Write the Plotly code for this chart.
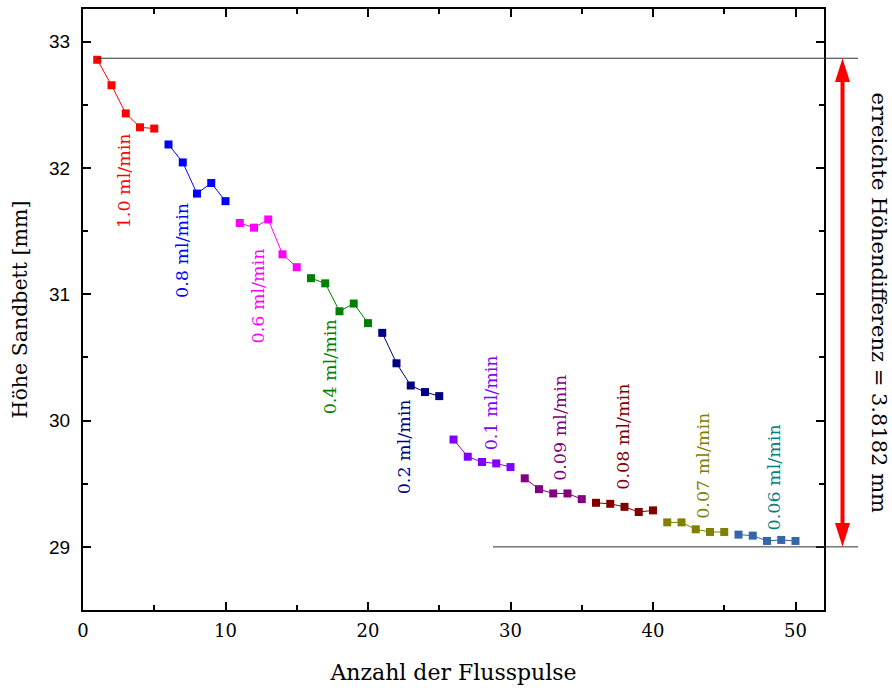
import plotly.graph_objects as go

# ---- data ----
pulses = list(range(1, 51))
flow_labels = ["1.0 ml/min", "0.8 ml/min", "0.6 ml/min", "0.4 ml/min", "0.2 ml/min",
               "0.1 ml/min", "0.09 ml/min", "0.08 ml/min", "0.07 ml/min", "0.06 ml/min"]
heights = [
    [32.858, 32.656, 32.433, 32.323, 32.313],
    [32.187, 32.045, 31.798, 31.882, 31.738],
    [31.565, 31.528, 31.593, 31.317, 31.215],
    [31.128, 31.087, 30.866, 30.927, 30.772],
    [30.695, 30.454, 30.278, 30.226, 30.194],
    [29.850, 29.714, 29.672, 29.661, 29.632],
    [29.543, 29.457, 29.423, 29.423, 29.378],
    [29.349, 29.341, 29.317, 29.276, 29.289],
    [29.194, 29.194, 29.139, 29.118, 29.118],
    [29.097, 29.089, 29.047, 29.055, 29.047],
]
label_x = [2.85, 6.93, 12.27, 17.33, 22.54, 28.66, 33.52, 37.87, 43.49, 48.49]
label_y = [31.90, 31.35, 30.99, 30.43, 29.79, 30.14, 29.94, 29.87, 29.64, 29.55]
marker_colors = ["#FF0000", "#0000FF", "#FF00FF", "#008000", "#000080",
                 "#8000FF", "#800080", "#800000", "#808000", "#3366AA"]
label_colors = ["#FF0000", "#0000FF", "#FF00FF", "#008000", "#000080",
                "#8000FF", "#800080", "#800000", "#808000", "#008080"]
ref_top = 32.87
ref_bottom = 29.0
diff_text = "erreichte Höhendifferenz = 3.8182 mm"

X_RANGE = [0, 52]
Y_RANGE = [28.5, 33.26]

fig = go.Figure()
for i, (lab, ys) in enumerate(zip(flow_labels, heights)):
    xs = pulses[i * 5:(i + 1) * 5]
    fig.add_trace(go.Scatter(
        x=xs, y=ys, mode="lines+markers", name=lab,
        line=dict(color=marker_colors[i], width=1),
        marker=dict(symbol="square", size=8, color=marker_colors[i]),
        showlegend=False, cliponaxis=False))
    fig.add_annotation(x=label_x[i], y=label_y[i], xref="x", yref="y",
                       text=lab, textangle=-90, showarrow=False,
                       font=dict(family="DejaVu Serif", size=17.5, color=label_colors[i]))

# reference lines (paper x, data y)
def px2paper(px):
    return (px - 83) / (824 - 83)

fig.add_shape(type="line", xref="paper", yref="y", x0=px2paper(97), x1=px2paper(858),
              y0=ref_top, y1=ref_top, line=dict(color="#333333", width=1))
fig.add_shape(type="line", xref="paper", yref="y", x0=px2paper(493), x1=px2paper(858),
              y0=ref_bottom, y1=ref_bottom, line=dict(color="#333333", width=1))

# double arrow
ax_ = px2paper(842.5)
hw = 7.5 / 741
hl = 24 / 605 * (Y_RANGE[1] - Y_RANGE[0])
fig.add_shape(type="line", xref="paper", yref="y", x0=ax_, x1=ax_,
              y0=ref_top - hl * 0.8, y1=ref_bottom + hl * 0.8,
              line=dict(color="#FF0000", width=4))
fig.add_shape(type="path", xref="paper", yref="y",
              path=f"M {ax_} {ref_top} L {ax_-hw} {ref_top-hl} L {ax_+hw} {ref_top-hl} Z",
              fillcolor="#FF0000", line=dict(color="#FF0000", width=0))
fig.add_shape(type="path", xref="paper", yref="y",
              path=f"M {ax_} {ref_bottom} L {ax_-hw} {ref_bottom+hl} L {ax_+hw} {ref_bottom+hl} Z",
              fillcolor="#FF0000", line=dict(color="#FF0000", width=0))

fig.add_annotation(xref="paper", yref="y", x=px2paper(879), y=(ref_top + ref_bottom) / 2,
                   xanchor="center", yanchor="middle",
                   text=diff_text, textangle=90, showarrow=False,
                   font=dict(family="DejaVu Serif", size=21, color="black"))

axis_common = dict(showline=True, linecolor="black", linewidth=2, mirror="allticks",
                   ticks="inside", ticklen=8, tickwidth=2, tickcolor="black",
                   showgrid=False, zeroline=False)
fig.update_xaxes(range=X_RANGE, dtick=10, tick0=0,
                 minor=dict(ticks="inside", ticklen=5, tickwidth=2, dtick=5, tickcolor="black"),
                 tickfont=dict(family="DejaVu Serif", size=18, color="black"),
                 ticklabelstandoff=3,
                 title=dict(text="Anzahl der Flusspulse", standoff=25,
                            font=dict(family="DejaVu Serif", size=22, color="black")),
                 **axis_common)
fig.update_yaxes(range=Y_RANGE, dtick=1, tick0=29,
                 minor=dict(ticks="inside", ticklen=5, tickwidth=2, dtick=0.5, tickcolor="black"),
                 tickfont=dict(family="Liberation Sans", size=19, color="black"),
                 ticklabelstandoff=7,
                 title=dict(text="Höhe Sandbett [mm]", standoff=16,
                            font=dict(family="DejaVu Serif", size=20.5, color="black")),
                 **axis_common)

fig.update_layout(width=892, height=688, margin=dict(l=83, r=68, t=7, b=76),
                  plot_bgcolor="white", paper_bgcolor="white")
fig.write_html("out.html", config={"displayModeBar": False},
               post_script="document.body.style.margin='0';")
